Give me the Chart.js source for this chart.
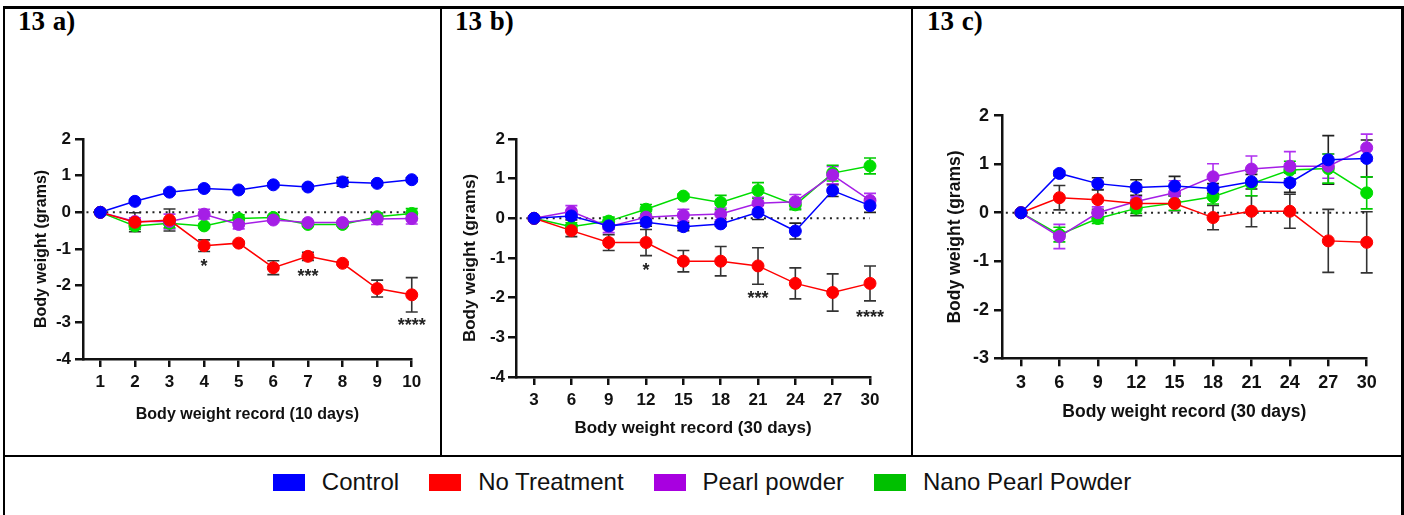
<!DOCTYPE html>
<html>
<head>
<meta charset="utf-8">
<script src="https://cdn.jsdelivr.net/npm/chart.js@4.4.0/dist/chart.umd.min.js"></script>
<style>
  html, body { margin: 0; padding: 0; background: #fff; }
  body { width: 1404px; height: 515px; position: relative; overflow: hidden; }
  .line { position: absolute; background: #000; }
  .panel-title { position: absolute; top: 8px; font: bold 27px 'Liberation Serif', 'Times New Roman', serif; word-spacing: 1px; color: #000; line-height: 1; }
  canvas { position: absolute; }
  #legend { position: absolute; left: 0; width: 1404px; top: 466px; height: 32px; display: flex; justify-content: center; align-items: center; font: 24px 'Liberation Sans', Arial, sans-serif; color: #111; }
  .item { display: flex; align-items: center; margin: 0 15px; }
  .swatch { width: 32px; height: 17px; margin-right: 17px; }
</style>
</head>
<body>
<!-- table borders -->
<div class="line" style="left:3px; top:6px; width:1401px; height:3px;"></div>
<div class="line" style="left:3px; top:6px; width:2px; height:509px;"></div>
<div class="line" style="left:1401px; top:6px; width:3px; height:509px;"></div>
<div class="line" style="left:440px; top:6px; width:2px; height:451px;"></div>
<div class="line" style="left:911px; top:6px; width:2px; height:451px;"></div>
<div class="line" style="left:3px; top:455px; width:1401px; height:2px;"></div>

<div class="panel-title" style="left:18px;">13 a)</div>
<div class="panel-title" style="left:455px;">13 b)</div>
<div class="panel-title" style="left:927px;">13 c)</div>

<canvas id="chartA" width="418" height="320" style="left:8px; top:110px;"></canvas>
<canvas id="chartB" width="440" height="340" style="left:448px; top:100px;"></canvas>
<canvas id="chartC" width="480" height="345" style="left:915px; top:80px;"></canvas>

<div id="legend"></div>

<script>
// series
const seriesNames = ['Control', 'No Treatment', 'Pearl powder', 'Nano Pearl Powder'];
const lineColors = ['#0000ff', '#ff0000', '#a51ee6', '#00dd00'];
const errColors = ['#222222', '#333333', '#b030f0', '#00cc00'];
const legendColors = ['#0000ff', '#ff0000', '#a800e0', '#00c000'];

// 13 a) - 10 days
const daysA = [1, 2, 3, 4, 5, 6, 7, 8, 9, 10];
const controlA = [0, 0.3, 0.55, 0.65, 0.61, 0.75, 0.69, 0.83, 0.79, 0.89];
const controlErrA = [0, 0.04, 0.05, 0.05, 0.04, 0.05, 0.05, 0.12, 0.05, 0.05];
const noTreatA = [0, -0.27, -0.21, -0.91, -0.84, -1.51, -1.2, -1.39, -2.08, -2.25];
const noTreatErrA = [0, 0.26, 0.3, 0.16, 0.04, 0.19, 0.11, 0.04, 0.23, 0.47];
const pearlA = [0, -0.25, -0.25, -0.05, -0.33, -0.21, -0.28, -0.28, -0.18, -0.17];
const pearlErrA = [0, 0.1, 0.2, 0.13, 0.12, 0.05, 0.05, 0.05, 0.15, 0.15];
const nanoA = [0, -0.37, -0.3, -0.37, -0.17, -0.14, -0.33, -0.33, -0.12, -0.03];
const nanoErrA = [0, 0.1, 0.12, 0.05, 0.1, 0.05, 0.05, 0.05, 0.1, 0.13];
const sigA = [{ x: 4, y: -1.38, text: '*' }, { x: 7, y: -1.65, text: '***' }, { x: 10, y: -2.99, text: '****' }];

// 13 b) - 30 days
const daysB = [3, 6, 9, 12, 15, 18, 21, 24, 27, 30];
const controlB = [0, 0.06, -0.19, -0.1, -0.21, -0.14, 0.15, -0.32, 0.7, 0.32];
const controlErrB = [0, 0.1, 0.08, 0.1, 0.1, 0.05, 0.18, 0.2, 0.15, 0.17];
const noTreatB = [0, -0.31, -0.61, -0.61, -1.08, -1.08, -1.2, -1.64, -1.87, -1.64];
const noTreatErrB = [0, 0.15, 0.2, 0.33, 0.27, 0.37, 0.46, 0.39, 0.47, 0.44];
const pearlB = [0, 0.17, -0.21, 0.03, 0.08, 0.11, 0.38, 0.42, 1.09, 0.45];
const pearlErrB = [0, 0.15, 0.15, 0.15, 0.15, 0.15, 0.15, 0.18, 0.22, 0.18];
const nanoB = [0, -0.21, -0.07, 0.23, 0.56, 0.4, 0.7, 0.34, 1.14, 1.32];
const nanoErrB = [0, 0.1, 0.1, 0.12, 0.05, 0.18, 0.2, 0.12, 0.2, 0.2];
const sigB = [{ x: 12, y: -1.23, text: '*' }, { x: 21, y: -1.94, text: '***' }, { x: 30, y: -2.42, text: '****' }];

// 13 c) - 30 days
const daysC = [3, 6, 9, 12, 15, 18, 21, 24, 27, 30];
const controlC = [0, 0.81, 0.6, 0.52, 0.55, 0.5, 0.64, 0.62, 1.09, 1.12];
const controlErrC = [0, 0.05, 0.12, 0.16, 0.2, 0.1, 0.15, 0.2, 0.5, 0.38];
const noTreatC = [0, 0.31, 0.27, 0.19, 0.19, -0.1, 0.03, 0.03, -0.58, -0.61];
const noTreatErrC = [0, 0.25, 0.2, 0.25, 0.15, 0.25, 0.32, 0.35, 0.65, 0.63];
const pearlC = [0, -0.49, 0, 0.23, 0.41, 0.74, 0.9, 0.96, 0.96, 1.34];
const pearlErrC = [0, 0.25, 0.12, 0.1, 0.25, 0.27, 0.27, 0.3, 0.25, 0.28];
const nanoC = [0, -0.45, -0.12, 0.09, 0.2, 0.33, 0.6, 0.88, 0.91, 0.41];
const nanoErrC = [0, 0.15, 0.1, 0.1, 0.15, 0.15, 0.25, 0.18, 0.3, 0.33];

const errorBars = {
  id: 'errorBars',
  beforeDatasetsDraw(chart, args, opts) {
    const { ctx, scales: { x, y } } = chart;
    (opts.errors || []).forEach((errs, i) => {
      const ds = chart.data.datasets[i];
      ctx.save();
      ctx.strokeStyle = errColors[i];
      ctx.lineWidth = 1.6;
      ds.data.forEach((p, j) => {
        const e = errs[j];
        if (!e) return;
        const px = x.getPixelForValue(p.x);
        const top = y.getPixelForValue(p.y + e);
        const bot = y.getPixelForValue(p.y - e);
        ctx.beginPath();
        ctx.moveTo(px, top); ctx.lineTo(px, bot);
        ctx.moveTo(px - 6, top); ctx.lineTo(px + 6, top);
        ctx.moveTo(px - 6, bot); ctx.lineTo(px + 6, bot);
        ctx.stroke();
      });
      ctx.restore();
    });
  }
};

const sigMarks = {
  id: 'sigMarks',
  afterDatasetsDraw(chart, args, opts) {
    const { ctx, scales: { x, y } } = chart;
    ctx.save();
    ctx.font = 'bold 18px "Liberation Sans", Arial';
    ctx.fillStyle = '#222';
    ctx.textAlign = 'center';
    ctx.textBaseline = 'middle';
    (opts.marks || []).forEach(m => {
      ctx.fillText(m.text, x.getPixelForValue(m.x), y.getPixelForValue(m.y) + 4);
    });
    ctx.restore();
  }
};

function makePanel(id, p) {
  const values = [p.control, p.noTreat, p.pearl, p.nano];
  const datasets = values.map((vals, i) => ({
    label: seriesNames[i],
    data: p.days.map((d, j) => ({ x: d, y: vals[j] })),
    borderColor: lineColors[i],
    backgroundColor: lineColors[i],
    borderWidth: 1.5,
    pointRadius: 6,
    pointBorderWidth: 1,
    tension: 0,
    clip: false,
  }));
  // dotted zero line
  datasets.push({
    label: 'zero',
    data: [{ x: p.xMin + 0.1 * (p.days[1] - p.days[0]), y: 0 }, { x: p.days[p.days.length - 1], y: 0 }],
    borderColor: '#222',
    borderWidth: 2,
    borderDash: [2, 4.6],
    pointRadius: 0,
    clip: false,
  });

  const tickFont = { family: '"Liberation Sans", Arial', weight: 'bold', size: p.tickSize };
  const titleFont = { family: '"Liberation Sans", Arial', weight: 'bold', size: p.titleSize };

  return new Chart(document.getElementById(id), {
    type: 'line',
    data: { datasets },
    options: {
      responsive: false,
      animation: false,
      devicePixelRatio: 1,
      layout: { padding: { top: p.padTop, right: p.padRight, left: 0, bottom: 0 } },
      plugins: {
        legend: { display: false },
        tooltip: { enabled: false },
        errorBars: { errors: [p.controlErr, p.noTreatErr, p.pearlErr, p.nanoErr] },
        sigMarks: { marks: p.sig || [] },
      },
      scales: {
        x: {
          type: 'linear',
          min: p.xMin,
          max: p.days[p.days.length - 1],
          afterBuildTicks: s => { s.ticks = p.days.map(v => ({ value: v })); },
          afterFit: s => { s.height = p.xHeight; },
          grid: { drawOnChartArea: false, drawTicks: true, tickLength: 8, color: '#111', lineWidth: 2.5 },
          border: { display: true, color: '#111', width: 2.5 },
          ticks: { font: tickFont, color: '#111', padding: p.xTickPad, maxRotation: 0, autoSkip: false },
          title: { display: true, text: p.xTitle, font: titleFont, color: '#111', padding: { top: 0, bottom: p.xTitlePad } },
        },
        y: {
          min: p.yMin,
          max: 2,
          afterFit: s => { s.width = p.yWidth; },
          grid: { drawOnChartArea: false, drawTicks: true, tickLength: 8, color: '#111', lineWidth: 2.5 },
          border: { display: true, color: '#111', width: 2.5 },
          ticks: { stepSize: 1, font: tickFont, color: '#111', padding: p.yTickPad },
          title: { display: true, text: 'Body weight (grams)', font: titleFont, color: '#111', padding: { top: p.yTitlePad, bottom: 0 } },
        },
      },
    },
    plugins: [errorBars, sigMarks],
  });
}

makePanel('chartA', {
  days: daysA, control: controlA, noTreat: noTreatA, pearl: pearlA, nano: nanoA,
  controlErr: controlErrA, noTreatErr: noTreatErrA, pearlErr: pearlErrA, nanoErr: nanoErrA, sig: sigA,
  xMin: 0.5, yMin: -4, xTitle: 'Body weight record (10 days)',
  padTop: 29, padRight: 13, yWidth: 75, xHeight: 71,
  tickSize: 17, titleSize: 16, yTitlePad: 24.4, yTickPad: 4, xTickPad: 4.8, xTitlePad: 5.4,
});

makePanel('chartB', {
  days: daysB, control: controlB, noTreat: noTreatB, pearl: pearlB, nano: nanoB,
  controlErr: controlErrB, noTreatErr: noTreatErrB, pearlErr: pearlErrB, nanoErr: nanoErrB, sig: sigB,
  xMin: 1.55, yMin: -4, xTitle: 'Body weight record (30 days)',
  padTop: 39, padRight: 18, yWidth: 68, xHeight: 63,
  tickSize: 17, titleSize: 17, yTitlePad: 11.8, yTickPad: 3, xTickPad: 4.8, xTitlePad: 1.8,
});

makePanel('chartC', {
  days: daysC, control: controlC, noTreat: noTreatC, pearl: pearlC, nano: nanoC,
  controlErr: controlErrC, noTreatErr: noTreatErrC, pearlErr: pearlErrC, nanoErr: nanoErrC,
  xMin: 1.52, yMin: -3, xTitle: 'Body weight record (30 days)',
  padTop: 35.7, padRight: 28.3, yWidth: 87, xHeight: 66.7,
  tickSize: 18, titleSize: 17.5, yTitlePad: 29.5, yTickPad: 5, xTickPad: 5.9, xTitlePad: 2.5,
});

// shared legend
const legend = document.getElementById('legend');
seriesNames.forEach((name, i) => {
  const item = document.createElement('div');
  item.className = 'item';
  const sw = document.createElement('div');
  sw.className = 'swatch';
  sw.style.background = legendColors[i];
  const label = document.createElement('span');
  label.textContent = name;
  item.appendChild(sw);
  item.appendChild(label);
  legend.appendChild(item);
});
</script>
</body>
</html>
